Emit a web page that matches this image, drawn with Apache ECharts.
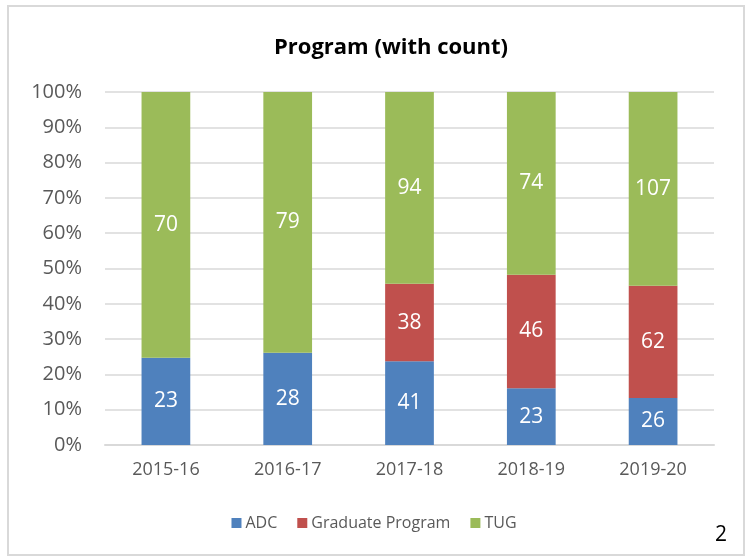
<!DOCTYPE html>
<html>
<head>
<meta charset="utf-8">
<script src="https://cdn.jsdelivr.net/npm/echarts@6/dist/echarts.min.js"></script>
<style>
    html, body { margin: 0; padding: 0; background: #fff; }
    #chart { width: 748px; height: 557px; }
</style>
</head>
<body>
<div id="chart"></div>
<script>
const years = ['2015-16', '2016-17', '2017-18', '2018-19', '2019-20'];
const adcCount = [23, 28, 41, 23, 26];
const gradCount = [0, 0, 38, 46, 62];
const tugCount = [70, 79, 94, 74, 107];

const fontName = '"Open Sans", Lato, sans-serif';

// turn counts into share of the year's total (100% stacked)
function toPercent(counts) {
    return counts.map((v, i) => {
        const total = adcCount[i] + gradCount[i] + tugCount[i];
        return { value: (v / total) * 100, count: v };
    });
}

function makeSeries(name, counts, color) {
    return {
        name: name,
        type: 'bar',
        stack: 'all',
        barWidth: '40%',
        data: toPercent(counts),
        itemStyle: { color: color },
        label: {
            show: true,
            position: 'inside',
            color: '#fff',
            fontFamily: fontName,
            fontSize: 21,
            formatter: (p) => (p.data.count > 0 ? p.data.count : ''),
        },
    };
}

const myChart = echarts.init(document.getElementById('chart'));

const option = {
    animation: false,
    title: {
        text: 'Program (with count)',
        left: 386,
        textAlign: 'center',
        top: 32,
        textStyle: {
            fontFamily: fontName,
            fontSize: 22,
            fontWeight: 'bold',
            color: '#000',
        },
    },
    grid: { left: 105, right: 34, top: 92, bottom: 112 },
    xAxis: {
        type: 'category',
        data: years,
        axisTick: { show: false },
        axisLine: { lineStyle: { color: '#d9d9d9', width: 2 } },
        axisLabel: {
            color: '#595959',
            fontFamily: fontName,
            fontSize: 18,
            margin: 16,
        },
    },
    yAxis: {
        type: 'value',
        min: 0,
        max: 100,
        interval: 10,
        axisLine: { show: false },
        axisTick: { show: false },
        splitLine: { lineStyle: { color: '#d9d9d9', width: 1.5 } },
        axisLabel: {
            formatter: '{value}%',
            color: '#595959',
            fontFamily: fontName,
            fontSize: 20,
            margin: 23,
        },
    },
    legend: {
        top: 508,
        left: 'center',
        itemWidth: 10,
        itemHeight: 10,
        itemGap: 20,
        icon: 'rect',
        textStyle: {
            color: '#595959',
            fontFamily: fontName,
            fontSize: 16,
            lineHeight: 20,
            padding: [0, 0, 0, -1],
        },
    },
    graphic: [
        {
            type: 'rect',
            shape: { x: 8, y: 6, width: 736, height: 549 },
            style: { fill: 'none', stroke: '#d9d9d9', lineWidth: 2 },
            silent: true,
        },
        {
            type: 'text',
            x: 721,
            y: 535,
            style: {
                text: '2',
                fill: '#000',
                font: '21px ' + fontName,
                textAlign: 'center',
                textVerticalAlign: 'middle',
            },
        },
    ],
    series: [
        makeSeries('ADC', adcCount, '#4f81bd'),
        makeSeries('Graduate Program', gradCount, '#c0504d'),
        makeSeries('TUG', tugCount, '#9bbb59'),
    ],
};

option && myChart.setOption(option);
</script>
</body>
</html>
